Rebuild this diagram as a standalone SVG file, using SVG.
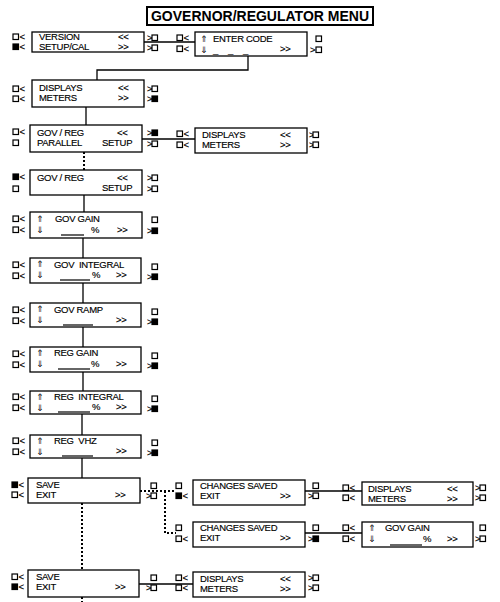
<svg xmlns="http://www.w3.org/2000/svg" width="500" height="602" viewBox="0 0 500 602">
<style>
.bx{fill:#fff;stroke:#000;stroke-width:1.3}
.tt{fill:#fff;stroke:#000;stroke-width:2}
.title{font-family:"Liberation Sans",Arial,Helvetica,sans-serif;font-size:14px;font-weight:bold;fill:#000}
.t{font-family:"Liberation Sans",Arial,Helvetica,sans-serif;font-size:9.5px;letter-spacing:-0.3px;fill:#000;stroke:#000;stroke-width:0.15;white-space:pre}
.ar{font-family:"DejaVu Sans",sans-serif;font-size:9px;fill:#000}
.e{fill:#fff;stroke:#000;stroke-width:1.2}
.f{fill:#000;stroke:#000;stroke-width:1.2}
.ln{fill:none;stroke:#000;stroke-width:1.3}
.dt{fill:none;stroke:#000;stroke-width:2;stroke-dasharray:2 2}
.ul{stroke:#000;stroke-width:1.2}
</style>
<defs>
<rect id="sq" width="5.5" height="5.5"/>
</defs>

<g id="title">
<rect class="tt" x="147" y="7" width="226" height="18"/>
<text class="title" x="260" y="21" text-anchor="middle">GOVERNOR/REGULATOR MENU</text>
</g>

<g id="connectors">
<path class="ln" d="M144 42H195"/>
<path class="ln" d="M248 56V70H97V80"/>
<path class="ln" d="M86 107V125"/>
<path class="ln" d="M142 139H195"/>
<path class="dt" d="M84 152V170"/>
<path class="ln" d="M84 195V212"/>
<path class="ln" d="M83 238V258"/>
<path class="ln" d="M83 283V303"/>
<path class="ln" d="M83 327V347"/>
<path class="ln" d="M83 372V391"/>
<path class="ln" d="M82 414V435"/>
<path class="ln" d="M82 458V478"/>
<path class="dt" d="M140 491H176"/>
<path class="dt" d="M165 491V533H176"/>
<path class="dt" d="M82 503V570"/>
<path class="ln" d="M305 491H362"/>
<path class="ln" d="M305 533H362"/>
<path class="ln" d="M139 584H193"/>
<path class="dt" d="M82 597V602"/>
</g>

<g id="n-version">
<rect class="bx" x="32" y="32" width="112" height="20"/>
<text class="t" x="39" y="40">VERSION</text>
<text class="t" x="39" y="50">SETUP/CAL</text>
<text class="t" x="118" y="40">&lt;&lt;</text>
<text class="t" x="118" y="50">&gt;&gt;</text>
<use href="#sq" class="e" x="13" y="34"/><text class="t" x="19.5" y="40">&lt;</text>
<use href="#sq" class="f" x="13" y="44"/><text class="t" x="19.5" y="50">&lt;</text>
<text class="t" x="147" y="41">&gt;</text><use href="#sq" class="e" x="152" y="35"/>
<text class="t" x="147" y="51">&gt;</text><use href="#sq" class="e" x="152" y="45"/>
</g>

<g id="n-entercode">
<rect class="bx" x="195" y="32" width="112" height="24"/>
<text class="ar" x="200" y="42">⇑</text>
<text class="t" x="213" y="42">ENTER CODE</text>
<text class="ar" x="200" y="53">⇓</text>
<text class="t" x="213" y="53" textLength="35" lengthAdjust="spacing">_ _ _</text>
<text class="t" x="280" y="52">&gt;&gt;</text>
<use href="#sq" class="e" x="177" y="35"/><text class="t" x="183.5" y="41">&lt;</text>
<use href="#sq" class="e" x="177" y="46"/><text class="t" x="183.5" y="52">&lt;</text>
<use href="#sq" class="e" x="316" y="36"/>
<text class="t" x="310" y="53">&gt;</text><use href="#sq" class="e" x="316" y="47"/>
</g>

<g id="n-displays1">
<rect class="bx" x="32" y="80" width="112" height="27"/>
<text class="t" x="39" y="91">DISPLAYS</text>
<text class="t" x="39" y="101">METERS</text>
<text class="t" x="118" y="91">&lt;&lt;</text>
<text class="t" x="118" y="101">&gt;&gt;</text>
<use href="#sq" class="e" x="13" y="86"/><text class="t" x="19.5" y="92">&lt;</text>
<use href="#sq" class="e" x="13" y="96"/><text class="t" x="19.5" y="102">&lt;</text>
<text class="t" x="147" y="92">&gt;</text><use href="#sq" class="e" x="152" y="86"/>
<text class="t" x="147" y="102">&gt;</text><use href="#sq" class="f" x="152" y="96"/>
</g>

<g id="n-govreg-parallel">
<rect class="bx" x="30" y="125" width="112" height="27"/>
<text class="t" x="37" y="136">GOV / REG</text>
<text class="t" x="37" y="146">PARALLEL</text>
<text class="t" x="117" y="136">&lt;&lt;</text>
<text class="t" x="102" y="146">SETUP</text>
<use href="#sq" class="e" x="13" y="129"/><text class="t" x="19.5" y="135">&lt;</text>
<use href="#sq" class="e" x="13" y="140"/>
<text class="t" x="147" y="136">&gt;</text><use href="#sq" class="f" x="152" y="130"/>
<text class="t" x="147" y="147">&gt;</text><use href="#sq" class="e" x="152" y="141"/>
</g>

<g id="n-displays2">
<rect class="bx" x="195" y="128" width="112" height="25"/>
<text class="t" x="202" y="138">DISPLAYS</text>
<text class="t" x="202" y="148">METERS</text>
<text class="t" x="280" y="138">&lt;&lt;</text>
<text class="t" x="280" y="148">&gt;&gt;</text>
<use href="#sq" class="e" x="177" y="131"/><text class="t" x="183.5" y="137">&lt;</text>
<use href="#sq" class="e" x="177" y="142"/><text class="t" x="183.5" y="148">&lt;</text>
<text class="t" x="309" y="138">&gt;</text><use href="#sq" class="e" x="313" y="132"/>
<text class="t" x="309" y="148">&gt;</text><use href="#sq" class="e" x="313" y="142"/>
</g>

<g id="n-govreg-setup">
<rect class="bx" x="30" y="170" width="112" height="25"/>
<text class="t" x="37" y="181">GOV / REG</text>
<text class="t" x="117" y="181">&lt;&lt;</text>
<text class="t" x="102" y="191">SETUP</text>
<use href="#sq" class="f" x="13" y="174"/><text class="t" x="19.5" y="180">&lt;</text>
<use href="#sq" class="e" x="13" y="186"/>
<text class="t" x="147" y="181">&gt;</text><use href="#sq" class="e" x="152" y="175"/>
<text class="t" x="147" y="192">&gt;</text><use href="#sq" class="e" x="152" y="186"/>
</g>

<g id="n-govgain">
<rect class="bx" x="30" y="212" width="112" height="26"/>
<text class="ar" x="36" y="222">⇑</text>
<text class="t" x="55" y="222">GOV GAIN</text>
<text class="ar" x="36" y="233">⇓</text>
<line class="ul" x1="61" y1="235" x2="84" y2="235"/>
<text class="t" x="91" y="233">%</text>
<text class="t" x="117" y="233">&gt;&gt;</text>
<use href="#sq" class="e" x="13" y="216"/><text class="t" x="19.5" y="222">&lt;</text>
<use href="#sq" class="e" x="13" y="227"/><text class="t" x="19.5" y="233">&lt;</text>
<use href="#sq" class="e" x="152" y="217"/>
<text class="t" x="147" y="234">&gt;</text><use href="#sq" class="f" x="152" y="228"/>
</g>

<g id="n-govintegral">
<rect class="bx" x="30" y="258" width="111" height="25"/>
<text class="ar" x="36" y="267">⇑</text>
<text class="t" x="54" y="268">GOV  INTEGRAL</text>
<text class="ar" x="36" y="278">⇓</text>
<line class="ul" x1="60" y1="280" x2="90" y2="280"/>
<text class="t" x="92" y="278">%</text>
<text class="t" x="116" y="278">&gt;&gt;</text>
<use href="#sq" class="e" x="13" y="262"/><text class="t" x="19.5" y="268">&lt;</text>
<use href="#sq" class="e" x="13" y="273"/><text class="t" x="19.5" y="279">&lt;</text>
<use href="#sq" class="e" x="152" y="264"/>
<text class="t" x="147" y="280">&gt;</text><use href="#sq" class="f" x="152" y="274"/>
</g>

<g id="n-govramp">
<rect class="bx" x="30" y="303" width="111" height="24"/>
<text class="ar" x="36" y="312">⇑</text>
<text class="t" x="54" y="313">GOV RAMP</text>
<text class="ar" x="36" y="323">⇓</text>
<line class="ul" x1="63" y1="325" x2="93" y2="325"/>
<text class="t" x="116" y="323">&gt;&gt;</text>
<use href="#sq" class="e" x="13" y="307"/><text class="t" x="19.5" y="313">&lt;</text>
<use href="#sq" class="e" x="13" y="318"/><text class="t" x="19.5" y="324">&lt;</text>
<use href="#sq" class="e" x="152" y="309"/>
<text class="t" x="147" y="325">&gt;</text><use href="#sq" class="f" x="152" y="319"/>
</g>

<g id="n-reggain">
<rect class="bx" x="30" y="347" width="111" height="25"/>
<text class="ar" x="36" y="356">⇑</text>
<text class="t" x="54" y="356">REG GAIN</text>
<text class="ar" x="36" y="367">⇓</text>
<line class="ul" x1="58" y1="369" x2="90" y2="369"/>
<text class="t" x="91" y="367">%</text>
<text class="t" x="116" y="367">&gt;&gt;</text>
<use href="#sq" class="e" x="13" y="351"/><text class="t" x="19.5" y="357">&lt;</text>
<use href="#sq" class="e" x="13" y="362"/><text class="t" x="19.5" y="368">&lt;</text>
<use href="#sq" class="e" x="152" y="353"/>
<text class="t" x="147" y="369">&gt;</text><use href="#sq" class="f" x="152" y="363"/>
</g>

<g id="n-regintegral">
<rect class="bx" x="30" y="391" width="111" height="23"/>
<text class="ar" x="36" y="400">⇑</text>
<text class="t" x="54" y="400">REG  INTEGRAL</text>
<text class="ar" x="36" y="411">⇓</text>
<line class="ul" x1="58" y1="412" x2="90" y2="412"/>
<text class="t" x="92" y="410">%</text>
<text class="t" x="116" y="410">&gt;&gt;</text>
<use href="#sq" class="e" x="13" y="394"/><text class="t" x="19.5" y="400">&lt;</text>
<use href="#sq" class="e" x="13" y="405"/><text class="t" x="19.5" y="411">&lt;</text>
<use href="#sq" class="e" x="152" y="396"/>
<text class="t" x="147" y="412">&gt;</text><use href="#sq" class="f" x="152" y="406"/>
</g>

<g id="n-regvhz">
<rect class="bx" x="30" y="435" width="111" height="23"/>
<text class="ar" x="36" y="444">⇑</text>
<text class="t" x="54" y="444">REG  VHZ</text>
<text class="ar" x="36" y="455">⇓</text>
<line class="ul" x1="62" y1="456" x2="93" y2="456"/>
<text class="t" x="116" y="454">&gt;&gt;</text>
<use href="#sq" class="e" x="13" y="438"/><text class="t" x="19.5" y="444">&lt;</text>
<use href="#sq" class="e" x="13" y="449"/><text class="t" x="19.5" y="455">&lt;</text>
<use href="#sq" class="e" x="152" y="440"/>
<text class="t" x="147" y="456">&gt;</text><use href="#sq" class="f" x="152" y="450"/>
</g>

<g id="n-save1">
<rect class="bx" x="28" y="478" width="112" height="25"/>
<text class="t" x="36" y="488">SAVE</text>
<text class="t" x="36" y="498">EXIT</text>
<text class="t" x="115" y="498">&gt;&gt;</text>
<use href="#sq" class="f" x="12" y="482"/><text class="t" x="18.5" y="488">&lt;</text>
<use href="#sq" class="e" x="12" y="492"/><text class="t" x="18.5" y="498">&lt;</text>
<use href="#sq" class="e" x="151" y="483"/>
<text class="t" x="146" y="499">&gt;</text><use href="#sq" class="e" x="151" y="493"/>
</g>

<g id="n-changes1">
<rect class="bx" x="193" y="480" width="112" height="25"/>
<text class="t" x="200" y="489">CHANGES SAVED</text>
<text class="t" x="200" y="499">EXIT</text>
<text class="t" x="280" y="499">&gt;&gt;</text>
<use href="#sq" class="e" x="176" y="483"/>
<use href="#sq" class="f" x="176" y="493"/><text class="t" x="182.5" y="499">&lt;</text>
<use href="#sq" class="e" x="313" y="483"/>
<text class="t" x="308" y="499">&gt;</text><use href="#sq" class="e" x="313" y="493"/>
</g>

<g id="n-displays3">
<rect class="bx" x="362" y="482" width="111" height="23"/>
<text class="t" x="368" y="492">DISPLAYS</text>
<text class="t" x="368" y="502">METERS</text>
<text class="t" x="447" y="492">&lt;&lt;</text>
<text class="t" x="447" y="502">&gt;&gt;</text>
<use href="#sq" class="e" x="343" y="485"/><text class="t" x="349.5" y="491">&lt;</text>
<use href="#sq" class="e" x="343" y="495"/><text class="t" x="349.5" y="501">&lt;</text>
<text class="t" x="475" y="491">&gt;</text><use href="#sq" class="e" x="480" y="485"/>
<text class="t" x="475" y="501">&gt;</text><use href="#sq" class="e" x="480" y="495"/>
</g>

<g id="n-changes2">
<rect class="bx" x="193" y="522" width="112" height="25"/>
<text class="t" x="200" y="531">CHANGES SAVED</text>
<text class="t" x="200" y="541">EXIT</text>
<text class="t" x="280" y="541">&gt;&gt;</text>
<use href="#sq" class="e" x="176" y="525"/>
<use href="#sq" class="e" x="176" y="536"/><text class="t" x="182.5" y="542">&lt;</text>
<use href="#sq" class="e" x="313" y="525"/>
<text class="t" x="308" y="542">&gt;</text><use href="#sq" class="f" x="313" y="536"/>
</g>

<g id="n-govgain2">
<rect class="bx" x="362" y="522" width="111" height="25"/>
<text class="ar" x="368" y="531">⇑</text>
<text class="t" x="385" y="531">GOV GAIN</text>
<text class="ar" x="368" y="542">⇓</text>
<line class="ul" x1="390" y1="545" x2="422" y2="545"/>
<text class="t" x="423" y="542">%</text>
<text class="t" x="447" y="542">&gt;&gt;</text>
<use href="#sq" class="e" x="343" y="525"/><text class="t" x="349.5" y="531">&lt;</text>
<use href="#sq" class="e" x="343" y="536"/><text class="t" x="349.5" y="542">&lt;</text>
<use href="#sq" class="e" x="480" y="525"/>
<text class="t" x="475" y="542">&gt;</text><use href="#sq" class="e" x="480" y="536"/>
</g>

<g id="n-save2">
<rect class="bx" x="28" y="570" width="111" height="27"/>
<text class="t" x="36" y="580">SAVE</text>
<text class="t" x="36" y="590">EXIT</text>
<text class="t" x="115" y="590">&gt;&gt;</text>
<use href="#sq" class="e" x="12" y="574"/><text class="t" x="18.5" y="580">&lt;</text>
<use href="#sq" class="f" x="12" y="584"/><text class="t" x="18.5" y="590">&lt;</text>
<use href="#sq" class="e" x="151" y="575"/>
<text class="t" x="146" y="591">&gt;</text><use href="#sq" class="e" x="151" y="585"/>
</g>

<g id="n-displays4">
<rect class="bx" x="193" y="572" width="112" height="25"/>
<text class="t" x="200" y="582">DISPLAYS</text>
<text class="t" x="200" y="592">METERS</text>
<text class="t" x="280" y="582">&lt;&lt;</text>
<text class="t" x="280" y="592">&gt;&gt;</text>
<use href="#sq" class="e" x="176" y="575"/><text class="t" x="182.5" y="581">&lt;</text>
<use href="#sq" class="e" x="176" y="585"/><text class="t" x="182.5" y="591">&lt;</text>
<text class="t" x="308" y="581">&gt;</text><use href="#sq" class="e" x="313" y="575"/>
<text class="t" x="308" y="591">&gt;</text><use href="#sq" class="e" x="313" y="585"/>
</g>
</svg>
